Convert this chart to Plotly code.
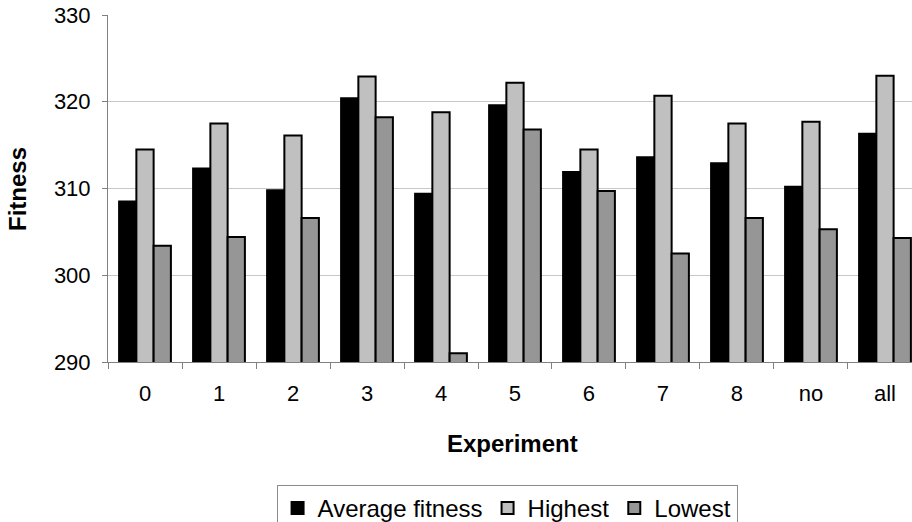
import plotly.graph_objects as go

# Experiment results: average, best and worst fitness per experiment
experiments = ["0", "1", "2", "3", "4", "5", "6", "7", "8", "no", "all"]
average_fitness = [308.5, 312.3, 309.8, 320.4, 309.4, 319.6, 311.9, 313.6, 312.9, 310.2, 316.3]
highest = [314.5, 317.5, 316.1, 322.9, 318.8, 322.2, 314.5, 320.7, 317.5, 317.7, 323.0]
lowest = [303.4, 304.4, 306.6, 318.2, 291.0, 316.8, 309.7, 302.5, 306.6, 305.3, 304.3]

series = [
    ("Average fitness", average_fitness, "#000000"),
    ("Highest", highest, "#c0c0c0"),
    ("Lowest", lowest, "#969696"),
]

FONT = "Liberation Sans, Arial, sans-serif"

fig = go.Figure()
for name, vals, color in series:
    fig.add_trace(go.Bar(
        x=experiments, y=vals, name=name,
        marker=dict(color=color, line=dict(color="#000000", width=2)),
    ))

fig.update_layout(
    width=912, height=522,
    margin=dict(l=108, r=0, t=15, b=160),
    paper_bgcolor="white", plot_bgcolor="white",
    barmode="group", bargap=0.3, bargroupgap=0,
    font=dict(family=FONT, size=22, color="#000000"),
    showlegend=True,
    legend=dict(
        orientation="h", xref="container", yref="container",
        x=0.556, xanchor="center", y=0.071, yanchor="top",
        bordercolor="#8c8c8c", borderwidth=1,
        font=dict(family=FONT, size=24, color="#000000"),
        traceorder="normal", itemwidth=30,
    ),
    annotations=[
        dict(text="<b>Fitness</b>", xref="paper", yref="paper", x=-0.1126, y=0.5,
             xanchor="center", yanchor="middle", textangle=-90, showarrow=False,
             font=dict(family=FONT, size=24, color="#000000")),
        dict(text="<b>Experiment</b>", xref="paper", yref="paper", x=0.5037, y=-0.234,
             xanchor="center", yanchor="middle", showarrow=False,
             font=dict(family=FONT, size=24, color="#000000")),
    ],
)

fig.update_xaxes(
    type="category", range=[-0.5, 10.365],
    tickson="boundaries", ticks="outside", ticklen=6, tickcolor="#808080",
    ticklabelstandoff=12,
    showline=True, linecolor="#808080", linewidth=1,
    showgrid=False, zeroline=False,
    tickfont=dict(family=FONT, size=22, color="#000000"),
)
fig.update_yaxes(
    range=[290, 330], dtick=10, tick0=290,
    ticks="outside", ticklen=5, tickcolor="#808080",
    ticklabelstandoff=7,
    showline=True, linecolor="#808080", linewidth=1,
    showgrid=True, gridcolor="#c8c8c8", gridwidth=1, zeroline=False,
    tickfont=dict(family=FONT, size=22, color="#000000"),
)

fig.write_html("out.html")
